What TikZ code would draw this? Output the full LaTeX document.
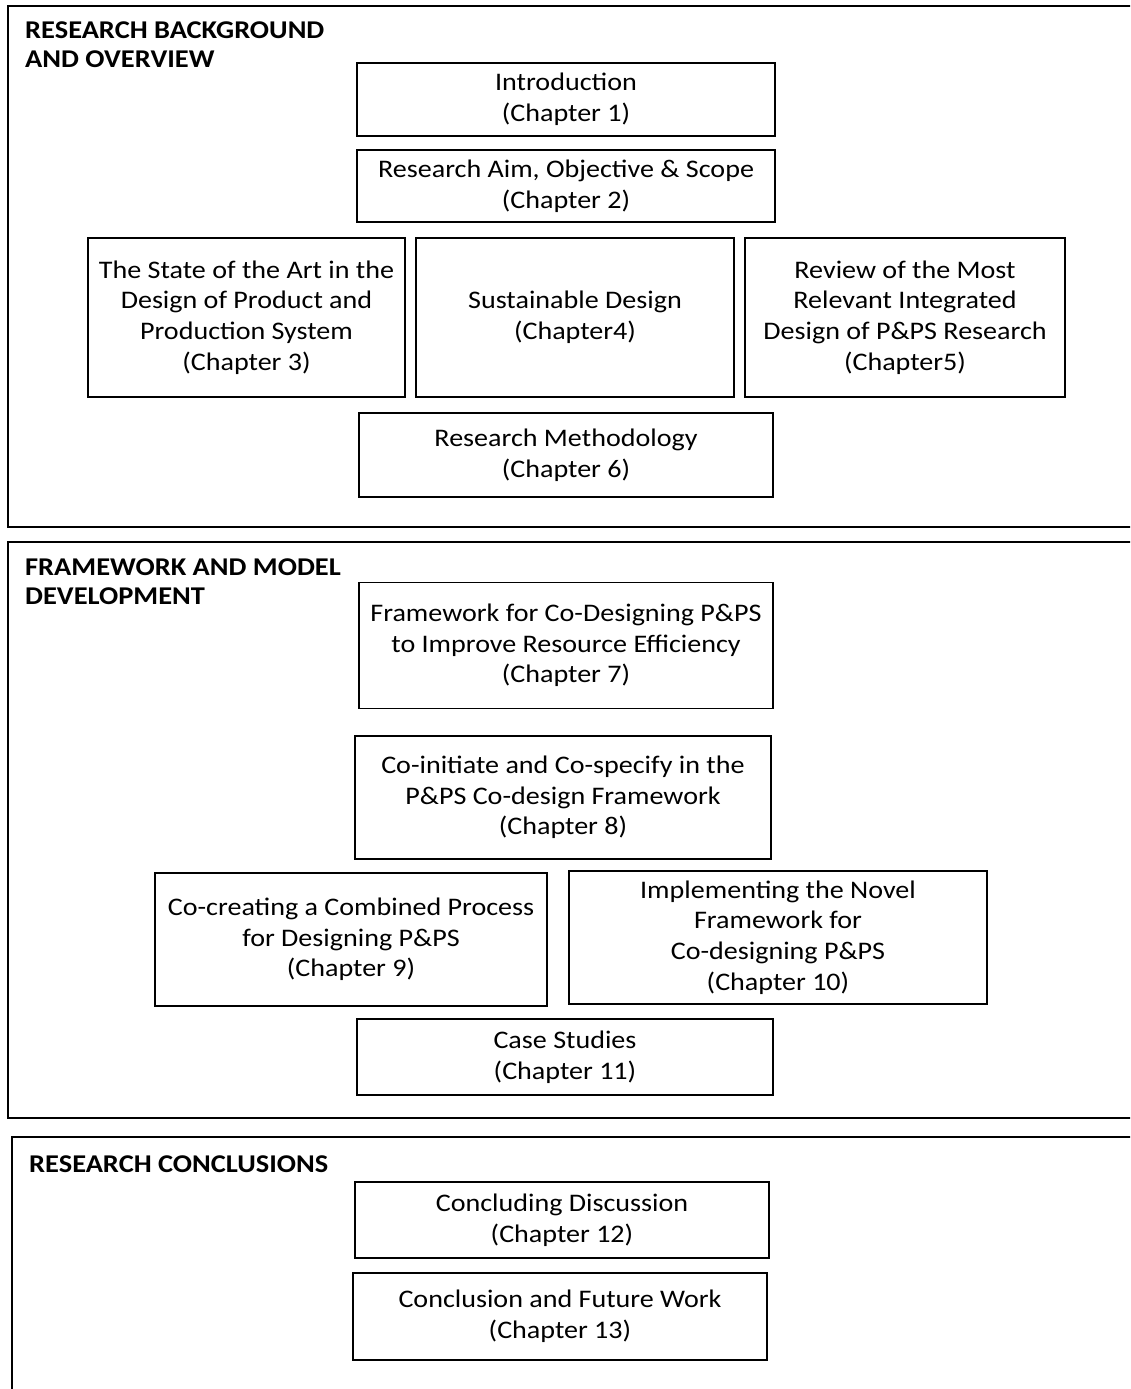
\documentclass[tikz,border=0pt]{standalone}
\usepackage{fontspec}
\setmainfont{Carlito}
\newfontfamily\boxfont[FakeStretch=1.11]{Carlito}
\begin{document}
\begin{tikzpicture}[x=1pt,y=-1pt,
  chapbox/.style={draw=black, line width=1.6pt, align=center, inner sep=0pt,
    font=\boxfont\fontsize{25.3}{30.7}\selectfont},
  panel/.style={draw=black, line width=1.8pt},
  paneltitle/.style={anchor=north west, align=left, inner sep=0pt,
    font=\boxfont\bfseries\fontsize{25.6}{28.5}\selectfont}]
\useasboundingbox (0,0) rectangle (1130,1389);
\clip (0,0) rectangle (1130,1389);

% three panels, running off the right (and bottom) edge
\draw[panel, line width=2.4pt] (8,6) rectangle (1150,527);
\draw[panel] (8,542) rectangle (1150,1118);
\draw[panel] (12,1137) rectangle (1150,1410);

% panel titles
\node[paneltitle] (t1) at (25,22) {RESEARCH BACKGROUND\\AND OVERVIEW};
\node[paneltitle] (t2) at (25,559) {FRAMEWORK AND MODEL\\DEVELOPMENT};
\node[paneltitle] (t3) at (29,1155) {RESEARCH CONCLUSIONS};

% background and overview
\node[chapbox, minimum width=418, minimum height=73] (ch1) at (566,99.5)
  {Introduction\\(Chapter 1)};
\node[chapbox, minimum width=418, minimum height=72] (ch2) at (566,186)
  {Research Aim, Objective \& Scope\\(Chapter 2)};
\node[chapbox, minimum width=317, minimum height=159] (ch3) at (246.5,317.5)
  {The State of the Art in the\\Design of Product and\\Production System\\(Chapter 3)};
\node[chapbox, minimum width=318, minimum height=159] (ch4) at (575,317.5)
  {Sustainable Design\\(Chapter4)};
\node[chapbox, minimum width=320, minimum height=159] (ch5) at (905,317.5)
  {Review of the Most\\Relevant Integrated\\Design of P\&PS Research\\(Chapter5)};
\node[chapbox, minimum width=414, minimum height=84] (ch6) at (566,455)
  {Research Methodology\\(Chapter 6)};

% framework and model development
\node[chapbox, minimum width=414, minimum height=126] (ch7) at (566,645.5)
  {Framework for Co-Designing P\&PS\\to Improve Resource Efficiency\\(Chapter 7)};
\node[chapbox, minimum width=416, minimum height=123] (ch8) at (563,797.5)
  {Co-initiate and Co-specify in the\\P\&PS Co-design Framework\\(Chapter 8)};
\node[chapbox, minimum width=392, minimum height=133] (ch9) at (351,939.5)
  {Co-creating a Combined Process\\for Designing P\&PS\\(Chapter 9)};
\node[chapbox, minimum width=418, minimum height=133] (ch10) at (778,937.5)
  {Implementing the Novel\\Framework for\\Co-designing P\&PS\\(Chapter 10)};
\node[chapbox, minimum width=416, minimum height=76] (ch11) at (565,1057)
  {Case Studies\\(Chapter 11)};

% conclusions
\node[chapbox, minimum width=414, minimum height=76] (ch12) at (562,1220)
  {Concluding Discussion\\(Chapter 12)};
\node[chapbox, minimum width=414, minimum height=87] (ch13) at (560,1316.5)
  {Conclusion and Future Work\\(Chapter 13)};
\end{tikzpicture}
\end{document}
